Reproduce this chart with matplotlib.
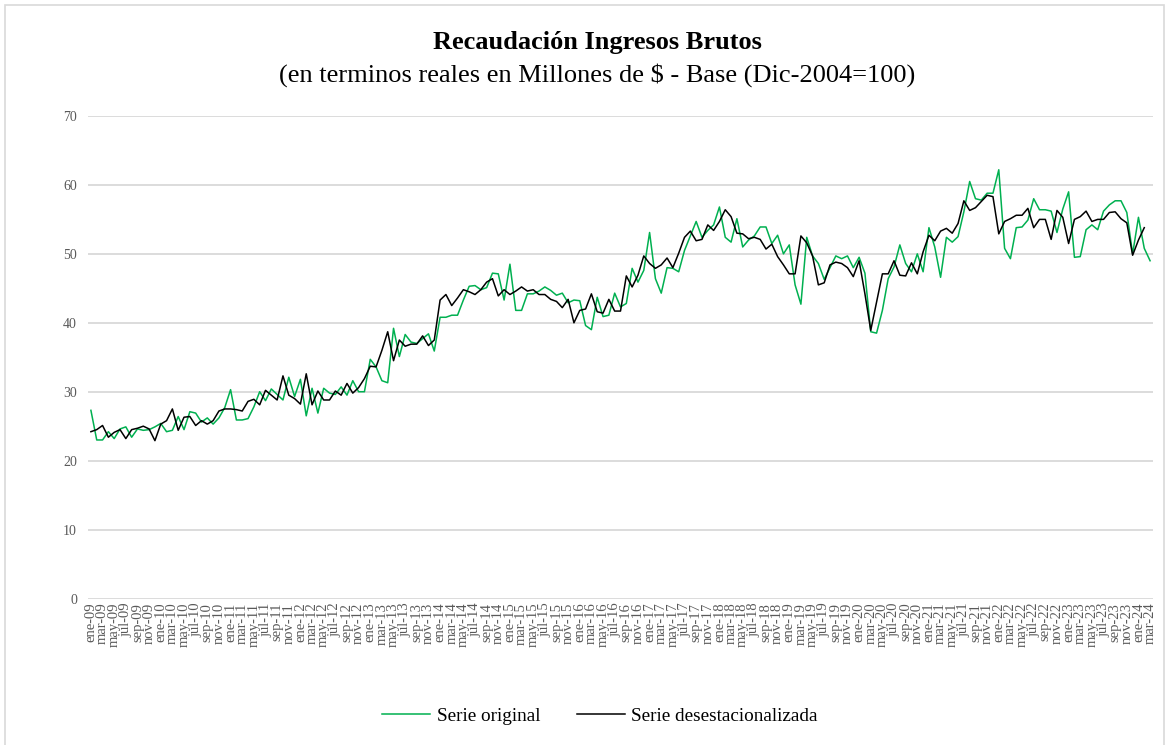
import matplotlib
matplotlib.use("Agg")
import matplotlib.pyplot as plt
from matplotlib.patches import Rectangle
from matplotlib.lines import Line2D

# ---------------- data ----------------
months = ["ene", "feb", "mar", "abr", "may", "jun", "jul", "ago", "sep", "oct", "nov", "dic"]
years = ["09", "10", "11", "12", "13", "14", "15", "16", "17", "18", "19", "20", "21", "22", "23", "24"]
n_months_last_year = 3  # ene-24 .. mar-24

serie_original = [
    27.3, 23.0, 23.0, 24.2, 23.2, 24.6, 24.9, 23.4, 24.6, 24.4,
    24.5, 24.9, 25.4, 24.2, 24.4, 26.4, 24.5, 27.1, 26.9, 25.6,
    26.2, 25.3, 26.2, 27.7, 30.3, 25.9, 25.9, 26.1, 27.8, 30.0,
    28.7, 30.4, 29.6, 28.8, 32.1, 29.3, 31.8, 26.5, 30.5, 26.9,
    30.5, 29.8, 29.6, 30.7, 29.5, 31.6, 30.0, 30.0, 34.7, 33.6,
    31.6, 31.3, 39.2, 35.1, 38.3, 37.2, 37.0, 37.7, 38.4, 35.9,
    40.8, 40.8, 41.1, 41.1, 43.3, 45.3, 45.4, 44.8, 45.1, 47.2,
    47.1, 43.3, 48.5, 41.8, 41.8, 44.2, 44.2, 44.6, 45.2, 44.7,
    44.0, 44.3, 42.9, 43.3, 43.2, 39.6, 39.0, 43.7, 40.9, 41.1,
    44.3, 42.3, 42.8, 47.9, 45.9, 47.6, 53.1, 46.4, 44.3, 48.0,
    47.9, 47.4, 50.5, 52.6, 54.7, 52.4, 53.4, 54.2, 56.8, 52.4,
    51.7, 55.1, 51.0, 52.0, 52.6, 53.9, 53.9, 51.5, 52.7, 50.0,
    51.3, 45.5, 42.7, 52.4, 49.7, 48.6, 46.3, 48.0, 49.7, 49.3,
    49.7, 48.0, 49.5, 47.2, 38.7, 38.5, 41.8, 46.4, 48.1, 51.3,
    48.6, 47.4, 50.0, 47.4, 53.8, 51.0, 46.6, 52.4, 51.7, 52.5,
    56.1, 60.5, 58.0, 57.8, 58.8, 58.8, 62.2, 50.8, 49.3, 53.8,
    53.9, 54.9, 58.0, 56.4, 56.4, 56.2, 53.1, 56.5, 59.0, 49.5,
    49.6, 53.5, 54.2, 53.5, 56.2, 57.1, 57.7, 57.7, 56.0, 50.0,
    55.3, 50.8, 49.0,
]

serie_desest = [
    24.2, 24.5, 25.1, 23.4, 24.1, 24.5, 23.2, 24.5, 24.7, 25.0,
    24.6, 22.9, 25.3, 25.8, 27.5, 24.4, 26.3, 26.4, 25.1, 25.8,
    25.3, 25.8, 27.2, 27.5, 27.5, 27.4, 27.2, 28.6, 28.9, 28.1,
    30.2, 29.5, 28.8, 32.3, 29.5, 29.0, 28.2, 32.6, 28.1, 30.1,
    28.8, 28.8, 30.1, 29.5, 31.2, 29.8, 30.6, 31.9, 33.7, 33.6,
    36.0, 38.7, 34.5, 37.5, 36.6, 36.9, 36.9, 38.1, 36.7, 37.5,
    43.3, 44.1, 42.5, 43.6, 44.8, 44.5, 44.1, 44.8, 45.9, 46.4,
    43.9, 44.8, 44.1, 44.6, 45.2, 44.6, 44.8, 44.1, 44.1, 43.4,
    43.1, 42.2, 43.4, 40.0, 41.8, 42.0, 44.2, 41.6, 41.4, 43.4,
    41.7, 41.7, 46.8, 45.2, 46.9, 49.7, 48.6, 47.9, 48.4, 49.4,
    48.0, 50.1, 52.4, 53.3, 51.9, 52.1, 54.2, 53.4, 54.7, 56.4,
    55.4, 53.0, 52.9, 52.2, 52.4, 52.1, 50.7, 51.4, 49.6, 48.4,
    47.1, 47.1, 52.6, 51.6, 49.7, 45.5, 45.8, 48.4, 48.8, 48.6,
    48.0, 46.7, 49.0, 44.2, 38.9, 43.0, 47.1, 47.1, 49.0, 46.9,
    46.8, 48.7, 47.1, 50.3, 52.7, 51.9, 53.3, 53.7, 53.0, 54.4,
    57.7, 56.3, 56.7, 57.6, 58.5, 58.3, 52.9, 54.7, 55.1, 55.6,
    55.6, 56.6, 53.8, 55.0, 55.0, 52.1, 56.3, 55.3, 51.5, 55.0,
    55.4, 56.2, 54.7, 55.0, 55.0, 56.0, 56.1, 55.1, 54.5, 49.8,
    52.0, 53.8,
]

y_ticks = [0, 10, 20, 30, 40, 50, 60, 70]
title = "Recaudación Ingresos Brutos"
subtitle = "(en terminos reales en Millones de $ - Base (Dic-2004=100)"
legend_labels = ["Serie original", "Serie desestacionalizada"]

# ---------------- categories ----------------
categories = []
for yi, yy in enumerate(years):
    mlist = months if yi < len(years) - 1 else months[:n_months_last_year]
    for m in mlist:
        categories.append(f"{m}-{yy}")

# ---------------- figure ----------------
W, H = 1174, 745
fig = plt.figure(figsize=(W / 100, H / 100), dpi=100)
serif = ["Liberation Serif", "DejaVu Serif"]
plt.rcParams["font.family"] = serif

# chart border
fig.patches.append(Rectangle((5 / W, -0.01), (1164 - 5) / W, 1 - 5 / H + 0.01,
                             transform=fig.transFigure, fill=False,
                             edgecolor="#d9d9d9", lw=1.2))

left, right, top, bottom = 88, 1153, 116, 598.5
ax = fig.add_axes([left / W, 1 - bottom / H, (right - left) / W, (bottom - top) / H])

x = list(range(len(categories)))
ax.plot(x[:len(serie_original)], serie_original, color="#00b050", lw=1.1, zorder=3)
ax.plot(x[:len(serie_desest)], serie_desest, color="#000000", lw=1.1, zorder=4)

ax.set_xlim(-0.5, len(categories) - 0.5)
ax.set_ylim(y_ticks[0], y_ticks[-1])
ax.set_yticks(y_ticks)
ax.set_yticklabels([str(v) for v in y_ticks], color="#595959", fontsize=10)
ax.yaxis.grid(True, color="#d9d9d9", lw=1.3)
ax.set_axisbelow(True)
for s in ax.spines.values():
    s.set_visible(False)
ax.tick_params(axis="y", length=0, pad=8)

tick_pos = x[::2]
ax.set_xticks(tick_pos)
ax.set_xticklabels([categories[i] for i in tick_pos], rotation=90,
                   color="#595959", fontsize=10.5, va="top", ha="center")
ax.tick_params(axis="x", length=0, pad=3)

fig.text(597 / W, 1 - 43 / H, title, ha="center", va="center",
         fontsize=19, fontweight="bold", color="#000000")
fig.text(597 / W, 1 - 75 / H, subtitle, ha="center", va="center",
         fontsize=19, color="#000000")

handles = [Line2D([], [], color="#00b050", lw=1.1),
           Line2D([], [], color="#000000", lw=1.1)]
fig.legend(handles, legend_labels, loc="center", bbox_to_anchor=(600 / W, 1 - 716 / H),
           ncol=2, frameon=False, fontsize=13.8, handlelength=2.5,
           columnspacing=1.9, handletextpad=0.35)

fig.savefig("out.png", dpi=100)
